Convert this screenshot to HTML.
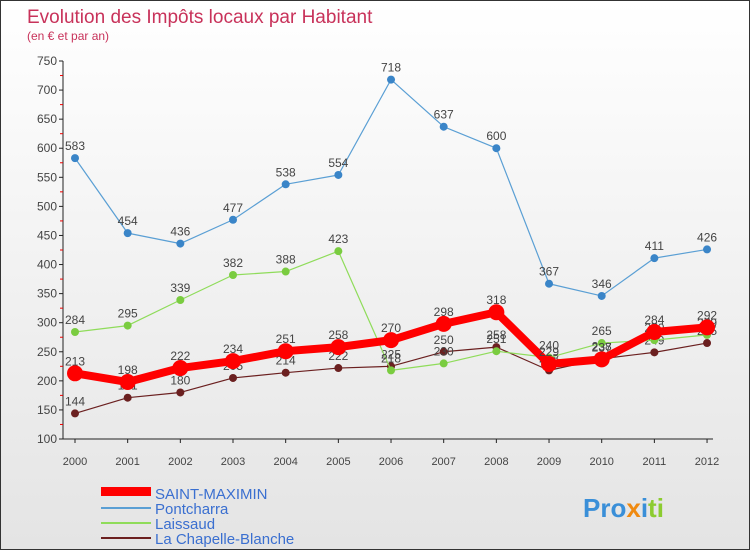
<!DOCTYPE html>
<html><head><meta charset="utf-8"><style>
body{margin:0;}
#c{width:748px;height:548px;border:1px solid #333;background:linear-gradient(#fff,#e4e4e4);position:relative;font-family:"Liberation Sans",sans-serif;overflow:hidden}
</style></head><body>
<div id="c">
<svg id="s" width="748" height="548" xmlns="http://www.w3.org/2000/svg">
<text x="26" y="22" font-size="19" fill="#c8325a">Evolution des Impôts locaux par Habitant</text>
<text x="26" y="39" font-size="12" fill="#c8325a">(en € et par an)</text>
<g id="ax"></g><g id="ser"></g>
<g>
<rect x="100" y="486" width="50" height="9" fill="#f00"/>
<text x="154" y="498" font-size="15" fill="#3a6fd0">SAINT-MAXIMIN</text>
<rect x="100" y="506" width="50" height="2" fill="#5a9fd4"/>
<text x="154" y="513" font-size="15" fill="#3a6fd0">Pontcharra</text>
<rect x="100" y="521" width="50" height="2" fill="#8fdc5a"/>
<text x="154" y="528" font-size="15" fill="#3a6fd0">Laissaud</text>
<rect x="100" y="536" width="50" height="2" fill="#6b2020"/>
<text x="154" y="543" font-size="15" fill="#3a6fd0">La Chapelle-Blanche</text>
</g>
<g font-size="26" font-weight="bold">
<text x="582" y="516"><tspan fill="#3a8fd8">Pro</tspan><tspan fill="#f08a10">x</tspan><tspan fill="#3a8fd8">i</tspan><tspan fill="#8ccc30">ti</tspan></text>
</g>
</svg></div>
<script>
const years=[2000,2001,2002,2003,2004,2005,2006,2007,2008,2009,2010,2011,2012];
const yTicks=[100,150,200,250,300,350,400,450,500,550,600,650,700,750];
const saintMaximin=[213,198,222,234,251,258,270,298,318,229,237,284,292];
const pontcharra=[583,454,436,477,538,554,718,637,600,367,346,411,426];
const laissaud=[284,295,339,382,388,423,218,230,251,240,265,270,279];
const chapelle=[144,171,180,205,214,222,225,250,258,218,238,249,265];
const NS="http://www.w3.org/2000/svg";
const X=i=>74+i*52.67, Y=v=>438-(v-100)*(378/650);
function mk(t,a,p){const e=document.createElementNS(NS,t);for(const k in a)e.setAttribute(k,a[k]);p.appendChild(e);return e;}
const ax=document.getElementById('ax'), ser=document.getElementById('ser');
let l=mk('line',{x1:62,y1:Y(750),x2:62,y2:Y(100),stroke:'#222'},ax);


l=mk('line',{x1:62,y1:Y(100),x2:712,y2:Y(100),stroke:'#222'},ax);


yTicks.forEach((v,k)=>{mk('line',{x1:58,y1:Y(v),x2:62,y2:Y(v),stroke:'#222'},ax);
 if(k<yTicks.length-1) mk('line',{x1:59,y1:Y(v+25),x2:62,y2:Y(v+25),stroke:'#e00'},ax);
 const t=mk('text',{x:56,y:Y(v)+4,'text-anchor':'end','font-size':12,fill:'#444'},ax);t.textContent=v;
 
 });
years.forEach((y,i)=>{mk('line',{x1:X(i),y1:Y(100),x2:X(i),y2:Y(100)+4,stroke:'#222'},ax);
 const t=mk('text',{x:X(i),y:464,'text-anchor':'middle','font-size':11,fill:'#444'},ax);t.textContent=y;
 
 });
function series(d,col,w,r,dot,name){
 const g=mk('g',{},ser);
 
 
 mk('polyline',{points:d.map((v,i)=>X(i)+','+Y(v)).join(' '),fill:'none',stroke:col,'stroke-width':w,'stroke-linejoin':'round'},g);
 d.forEach((v,i)=>{const c=mk('circle',{cx:X(i),cy:Y(v),r:r,fill:dot},g);
  
  
  const t=mk('text',{x:X(i),y:Y(v)-8,'text-anchor':'middle','font-size':12,fill:'#444'},g);t.textContent=v;});
}
series(chapelle,'#6b2020',1.2,4,'#6b2020','la-chapelle-blanche');
series(laissaud,'#8fdc5a',1.2,4,'#7acc40','laissaud');
series(pontcharra,'#5a9fd4',1.2,4,'#3a85c8','pontcharra');
series(saintMaximin,'#f00',8,8,'#f00','saint-maximin');
</script></body></html>
